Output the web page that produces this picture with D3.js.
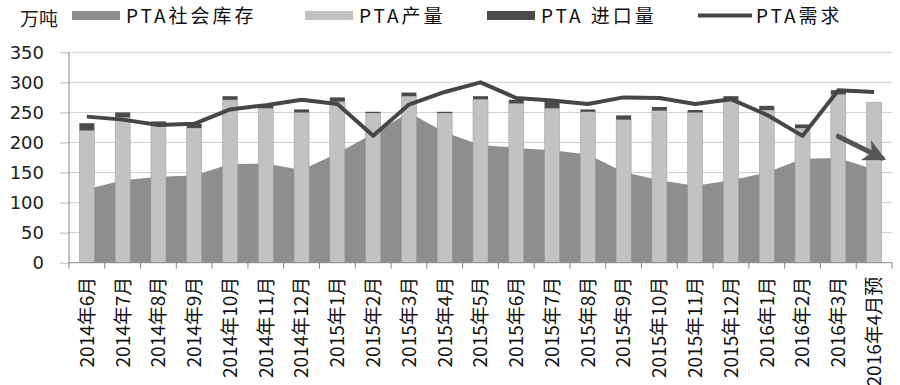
<!DOCTYPE html>
<html>
<head>
<meta charset="utf-8">
<script src="https://cdn.jsdelivr.net/npm/d3@7"></script>
<style>
  body { margin: 0; background: #fff; }
  svg { display: block; }
</style>
</head>
<body>
<script>
// 月份
var months = ["2014年6月","2014年7月","2014年8月","2014年9月","2014年10月","2014年11月","2014年12月",
  "2015年1月","2015年2月","2015年3月","2015年4月","2015年5月","2015年6月","2015年7月","2015年8月",
  "2015年9月","2015年10月","2015年11月","2015年12月","2016年1月","2016年2月","2016年3月","2016年4月预"];
// PTA社会库存 (万吨)
var inventory = [122,137,143,145,164,165,154,182,215,250,217,196,191,187,180,151,137,128,137,150,173,174,155];
// PTA产量
var output = [220,242,229,224,271,257,250,268,249,277,249,272,265,257,251,238,253,250,271,254,224,280,267];
// PTA 进口量
var imports = [12,8,6,7,6,5,5,7,2,6,2,5,6,11,4,7,6,4,6,7,6,7,0];
// PTA需求
var demand = [243,238,229,231,255,262,271,264,211,263,284,300,274,270,264,275,274,264,272,246,211,287,284];
var yTicks = [0,50,100,150,200,250,300,350];

function drawChart(){
  var width = 900, height = 385;
  var svg = d3.select("body").append("svg")
    .attr("width", width)
    .attr("height", height);

  var left = 69, right = 892, plotTop = 52.3, plotBottom = 262.7;

  var x = d3.scaleBand().domain(months).range([left, right]).padding(0);
  var y = d3.scaleLinear().domain([0, 350]).range([plotBottom, plotTop]);
  var bw = x.bandwidth() * 0.42;
  var cx = function(d){ return x(d) + x.bandwidth() / 2; };

  // gridlines
  svg.append("g")
    .selectAll("line")
    .data(yTicks.slice(1))
    .enter().append("line")
    .attr("x1", left).attr("x2", right)
    .attr("y1", function(d){ return y(d); })
    .attr("y2", function(d){ return y(d); })
    .attr("stroke", "#cfcfcf")
    .attr("stroke-width", 1);

  // inventory area
  var area = d3.area()
    .x(function(d, i){ return cx(months[i]); })
    .y0(y(0))
    .y1(function(d){ return y(d); });
  svg.append("path")
    .datum(inventory)
    .attr("d", area)
    .attr("fill", "#8e8e8e");

  // production bars
  svg.append("g")
    .selectAll("rect")
    .data(output)
    .enter().append("rect")
    .attr("x", function(d, i){ return cx(months[i]) - bw / 2; })
    .attr("y", function(d){ return y(d); })
    .attr("width", bw)
    .attr("height", function(d){ return y(0) - y(d); })
    .attr("fill", "#c2c2c2")
    .attr("stroke", "#9a9a9a")
    .attr("stroke-width", 0.5);

  // import bars stacked on top
  svg.append("g")
    .selectAll("rect")
    .data(imports)
    .enter().append("rect")
    .attr("x", function(d, i){ return cx(months[i]) - bw / 2; })
    .attr("y", function(d, i){ return y(output[i] + d); })
    .attr("width", bw)
    .attr("height", function(d, i){ return y(output[i]) - y(output[i] + d); })
    .attr("fill", "#4b4b4b");

  // demand line
  var line = d3.line()
    .x(function(d, i){ return cx(months[i]); })
    .y(function(d){ return y(d); });
  svg.append("path")
    .datum(demand)
    .attr("d", line)
    .attr("fill", "none")
    .attr("stroke", "#464646")
    .attr("stroke-width", 4)
    .attr("stroke-linejoin", "round");

  // annotation arrow
  svg.append("defs").append("marker")
    .attr("id", "ah")
    .attr("viewBox", "0 0 10 10")
    .attr("refX", 8).attr("refY", 5)
    .attr("markerWidth", 4.5).attr("markerHeight", 4.5)
    .attr("orient", "auto")
    .append("path")
    .attr("d", "M0,0L10,5L0,10L3,5Z")
    .attr("fill", "#555");
  var arrowFrom = { cat: "2016年3月", f: 0.5, v: 210 };
  var arrowTo = { cat: "2016年4月预", f: 0.72, v: 174 };
  svg.append("line")
    .attr("x1", x(arrowFrom.cat) + x.bandwidth() * arrowFrom.f)
    .attr("y1", y(arrowFrom.v))
    .attr("x2", x(arrowTo.cat) + x.bandwidth() * arrowTo.f)
    .attr("y2", y(arrowTo.v))
    .attr("stroke", "#555")
    .attr("stroke-width", 5)
    .attr("stroke-linecap", "round")
    .attr("marker-end", "url(#ah)");

  // y axis
  var yAxis = svg.append("g")
    .attr("transform", "translate(" + left + ",0)")
    .call(d3.axisLeft(y).tickValues(yTicks).tickSize(9).tickPadding(16));
  yAxis.select(".domain").remove();
  yAxis.selectAll(".tick line").attr("stroke", "#bbb");
  yAxis.selectAll("text")
    .attr("fill", "#222")
    .style("font-family", "DejaVu Sans, sans-serif")
    .style("font-size", "18px");
  svg.append("line")
    .attr("x1", left).attr("x2", left)
    .attr("y1", plotTop).attr("y2", plotBottom + 6)
    .attr("stroke", "#888");

  // x axis
  svg.append("line")
    .attr("x1", left).attr("x2", right)
    .attr("y1", plotBottom).attr("y2", plotBottom)
    .attr("stroke", "#888");
  svg.append("g")
    .selectAll("line")
    .data(months)
    .enter().append("line")
    .attr("x1", function(d){ return x(d) + x.bandwidth(); })
    .attr("x2", function(d){ return x(d) + x.bandwidth(); })
    .attr("y1", plotBottom).attr("y2", plotBottom + 6)
    .attr("stroke", "#888");

  svg.append("g")
    .selectAll("text")
    .data(months)
    .enter().append("text")
    .text(function(d){ return d; })
    .attr("transform", function(d){ return "translate(" + cx(d) + "," + (plotBottom + 14) + ") rotate(-90)"; })
    .attr("text-anchor", "end")
    .attr("dy", "0.36em")
    .attr("fill", "#111")
    .style("font-family", "'Liberation Sans Narrow', 'Noto Sans CJK SC', sans-serif")
    .style("font-size", "19px");

  // unit
  svg.append("text")
    .text("万吨")
    .attr("x", 20).attr("y", 26)
    .attr("fill", "#222")
    .style("font-family", "'Noto Sans CJK SC', sans-serif")
    .style("font-size", "19px");

  // legend
  var legend = [
    { name: "PTA社会库存", type: "rect", color: "#8e8e8e", x: 72 },
    { name: "PTA产量", type: "rect", color: "#c2c2c2", x: 305 },
    { name: "PTA 进口量", type: "rect", color: "#4b4b4b", x: 487 },
    { name: "PTA需求", type: "line", color: "#464646", x: 698 }
  ];
  var lg = svg.append("g").selectAll("g").data(legend).enter().append("g");
  lg.each(function(d){
    var g = d3.select(this);
    if (d.type === "rect") {
      g.append("rect").attr("x", d.x).attr("y", 11).attr("width", 48).attr("height", 9).attr("fill", d.color);
    } else {
      g.append("line").attr("x1", d.x).attr("x2", d.x + 54).attr("y1", 15.5).attr("y2", 15.5)
        .attr("stroke", d.color).attr("stroke-width", 4);
    }
    g.append("text")
      .text(d.name)
      .attr("x", d.x + (d.type === "rect" ? 54 : 58))
      .attr("y", 23)
      .attr("fill", "#111")
      .style("font-family", "'Noto Sans CJK SC', sans-serif")
      .style("font-size", "19px")
      .style("letter-spacing", "3px");
  });
}

drawChart();
</script>
</body>
</html>
